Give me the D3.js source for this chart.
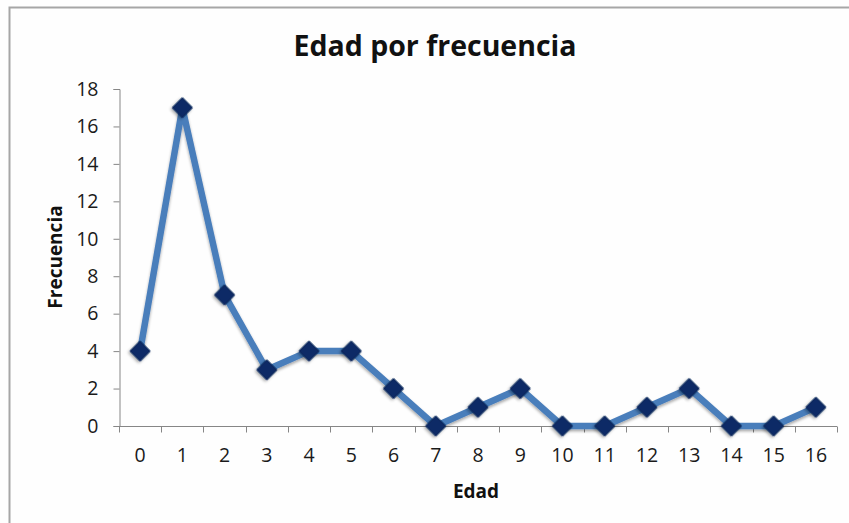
<!DOCTYPE html>
<html>
<head>
<meta charset="utf-8">
<script src="https://cdn.jsdelivr.net/npm/d3@7"></script>
<style>
  body { margin: 0; background: #fff; }
  svg { display: block; font-family: "Open Sans", "DejaVu Sans", sans-serif; }
</style>
</head>
<body>
<div id="chart"></div>
<script>
// Chart data
const edades = ['0', '1', '2', '3', '4', '5', '6', '7', '8', '9', '10', '11', '12', '13', '14', '15', '16']
const frecuencias = [4, 17, 7, 3, 4, 4, 2, 0, 1, 2, 0, 0, 1, 2, 0, 0, 1]
const yTicks = [0, 2, 4, 6, 8, 10, 12, 14, 16, 18]

// Canvas
const width = 849,
  height = 523

const plot = { left: 119, right: 837, top: 89, bottom: 426 }

let svg = d3.select('#chart')
  .append('svg')
  .attr('width', width)
  .attr('height', height)

svg.append('rect')
  .attr('width', width)
  .attr('height', height)
  .attr('fill', '#fefefe')

// outer frame of the chart area
svg.append('path')
  .attr('d', `M9.5,${height + 2} V7.5 H${width + 2}`)
  .attr('fill', 'none')
  .attr('stroke', '#a6a6a6')
  .attr('stroke-width', 2)

// soft shadow like the spreadsheet markers
let defs = svg.append('defs')
let shadow = defs.append('filter')
  .attr('id', 'shadow')
  .attr('x', '-50%').attr('y', '-50%')
  .attr('width', '200%').attr('height', '200%')
shadow.append('feGaussianBlur')
  .attr('in', 'SourceAlpha')
  .attr('stdDeviation', 1.6)
shadow.append('feOffset')
  .attr('dx', 0).attr('dy', 2)
  .attr('result', 'blur')
shadow.append('feComponentTransfer')
  .append('feFuncA').attr('type', 'linear').attr('slope', 0.35)
let merge = shadow.append('feMerge')
merge.append('feMergeNode')
merge.append('feMergeNode').attr('in', 'SourceGraphic')

// Scales
let xScale = d3.scaleBand()
  .domain(edades)
  .range([plot.left, plot.right])

let yScale = d3.scaleLinear()
  .domain([0, 18])
  .range([plot.bottom, plot.top])

// Axes
let y_axis = d3.axisLeft(yScale)
  .tickValues(yTicks)
  .tickSize(6)
  .tickPadding(15)

let gy = svg.append('g')
  .attr('transform', `translate(${plot.left + 0.5},0)`)
  .call(y_axis)

let x_axis = d3.axisBottom(xScale)
  .tickSize(0)
  .tickPadding(22)

let gx = svg.append('g')
  .attr('transform', `translate(0,${plot.bottom + 0.5})`)
  .call(x_axis)

// category boundary ticks
gx.selectAll('line.bound')
  .data(d3.range(edades.length + 1))
  .enter()
  .append('line')
  .attr('class', 'bound')
  .attr('x1', i => Math.round(plot.left + i * xScale.step()) + 0.5)
  .attr('x2', i => Math.round(plot.left + i * xScale.step()) + 0.5)
  .attr('y1', 0)
  .attr('y2', 6)
  .attr('stroke', '#868686')

;[gx, gy].forEach(g => {
  g.attr('font-size', null).attr('font-family', null)
  g.selectAll('.domain').attr('stroke', '#868686')
  g.selectAll('.tick line').attr('stroke', '#868686')
  g.selectAll('.tick text')
    .attr('fill', '#1a1a1a')
    .style('font-size', '19.5px')
    .style('font-family', '"Open Sans", sans-serif')
})
gx.select('.domain').attr('d', `M${plot.left},0H${plot.right}`)

// Line
let line = d3.line()
  .x((d, i) => xScale(edades[i]) + xScale.bandwidth() / 2)
  .y(d => yScale(d))

svg.append('path')
  .datum(frecuencias)
  .attr('d', line)
  .attr('fill', 'none')
  .attr('stroke', '#4a7ebb')
  .attr('stroke-width', 6.5)
  .attr('stroke-linejoin', 'round')
  .attr('filter', 'url(#shadow)')

// Markers
svg.selectAll('path.marker')
  .data(frecuencias)
  .enter()
  .append('path')
  .attr('class', 'marker')
  .attr('d', d3.symbol().type(d3.symbolSquare).size(200))
  .attr('transform', (d, i) =>
    `translate(${xScale(edades[i]) + xScale.bandwidth() / 2},${yScale(d)}) rotate(45)`)
  .attr('fill', '#0b2a66')
  .attr('stroke', '#0a2458')
  .attr('stroke-width', 1)
  .attr('filter', 'url(#shadow)')

// Titles
svg.append('text')
  .attr('x', 435)
  .attr('y', 56)
  .attr('text-anchor', 'middle')
  .style('font-size', '28.5px')
  .style('font-weight', 'bold')
  .attr('fill', '#111')
  .text('Edad por frecuencia')

svg.append('text')
  .attr('x', 476)
  .attr('y', 498)
  .attr('text-anchor', 'middle')
  .style('font-size', '19px')
  .style('font-weight', 'bold')
  .attr('fill', '#111')
  .text('Edad')

svg.append('text')
  .attr('transform', 'translate(62,257) rotate(-90)')
  .attr('text-anchor', 'middle')
  .style('font-size', '19px')
  .style('font-weight', 'bold')
  .attr('fill', '#111')
  .text('Frecuencia')
</script>
</body>
</html>
